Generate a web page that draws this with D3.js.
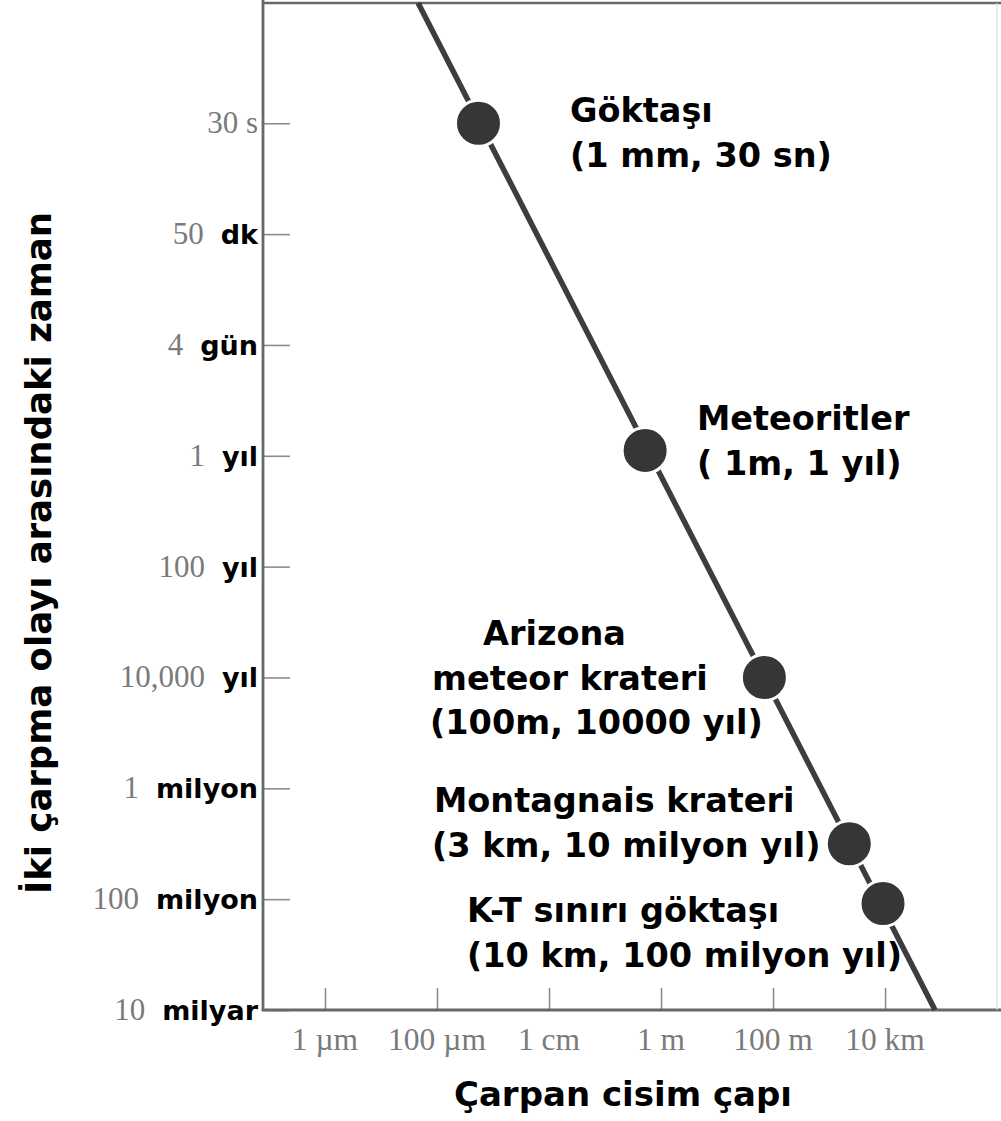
<!DOCTYPE html>
<html>
<head>
<meta charset="utf-8">
<script src="https://cdn.jsdelivr.net/npm/d3@7/dist/d3.min.js"></script>
<style>
  html, body { margin: 0; padding: 0; background: #fff; }
  svg { display: block; }
</style>
</head>
<body>
<svg id="chart" width="1001" height="1121"></svg>
<script>
// ---------- DATA ----------
// y axis: time between two impacts (in years)
const yTickYears   = [1e-6, 1e-4, 1e-2, 1, 1e2, 1e4, 1e6, 1e8, 1e10];
const yTickNumbers = ["30 s", "50", "4", "1", "100", "10,000", "1", "100", "10"];
const yTickUnits   = ["", "dk", "gün", "yıl", "yıl", "yıl", "milyon", "milyon", "milyar"];

// x axis: impactor diameter (in metres)
const xTickMeters = [1e-6, 1e-4, 1e-2, 1, 1e2, 1e4];
const xTickLabels = ["1 µm", "100 µm", "1 cm", "1 m", "100 m", "10 km"];

// events
const eventNames     = ["Göktaşı", "Meteoritler", "Arizona meteor krateri", "Montagnais krateri", "K-T sınırı göktaşı"];
const eventDiameters = [5.5e-4, 0.52, 70, 2300, 9200];        // m
const eventIntervals = [1e-6, 0.8, 1e4, 1e7, 1.2e8];          // years
const eventLabelLines = [
  ["Göktaşı", "(1 mm, 30 sn)"],
  ["Meteoritler", "( 1m, 1 yıl)"],
  ["Arizona", "meteor krateri", "(100m, 10000 yıl)"],
  ["Montagnais krateri", "(3 km, 10 milyon yıl)"],
  ["K-T sınırı göktaşı", "(10 km, 100 milyon yıl)"]
];

// trend line end points (diameter m, interval years)
const trendDiameters = [4.6e-5, 7.8e4];
const trendIntervals = [6.76e-9, 1e10];

const xTitle = "Çarpan cisim çapı";
const yTitle = "İki çarpma olayı arasındaki zaman";

// ---------- LAYOUT ----------
const plotLeft = 263, plotRight = 1001, plotTop = 3, plotBottom = 1010;
// label placement (x of each line / first baseline), layout only
const labelLayout = [
  {x: [570, 570], y: 122},
  {x: [697, 697], y: 430},
  {x: [483, 432, 430], y: 645},
  {x: [434, 432], y: 812},
  {x: [467, 467], y: 922}
];
const lineGap = 44.5;

const svg = d3.select("#chart");

const x = d3.scaleLog()
  .domain([Math.pow(10, -7.107), Math.pow(10, 6.07)])
  .range([plotLeft, plotRight]);
const y = d3.scaleLog()
  .domain([Math.pow(10, -8.17), 1e10])
  .range([plotTop, plotBottom]);

const axisGray = "#686868";
const tickGray = "#8c8c8c";
const labelGray = "#7a7a7a";
const serif = "'Liberation Serif', 'DejaVu Serif', serif";
const sansBold = "'DejaVu Sans', sans-serif";

// ---------- AXES ----------
const yAxis = d3.axisLeft(y)
  .tickValues(yTickYears)
  .tickSize(-27)
  .tickFormat("");
const gy = svg.append("g")
  .attr("transform", `translate(${plotLeft},0)`)
  .call(yAxis);
gy.select(".domain").remove();
gy.selectAll(".tick line").attr("stroke", tickGray).attr("stroke-width", 1.6);

const xAxis = d3.axisBottom(x)
  .tickValues(xTickMeters)
  .tickSize(-22)
  .tickFormat("");
const gx = svg.append("g")
  .attr("transform", `translate(0,${plotBottom})`)
  .call(xAxis);
gx.select(".domain").remove();
gx.selectAll(".tick line").attr("stroke", tickGray).attr("stroke-width", 1.6);

// frame lines
svg.append("line")
  .attr("x1", plotLeft).attr("x2", plotLeft)
  .attr("y1", 0).attr("y2", plotBottom)
  .attr("stroke", axisGray).attr("stroke-width", 2.8);
svg.append("line")
  .attr("x1", plotLeft - 1.4).attr("x2", plotRight)
  .attr("y1", plotBottom).attr("y2", plotBottom)
  .attr("stroke", axisGray).attr("stroke-width", 2.8);
svg.append("line")
  .attr("x1", plotLeft).attr("x2", plotRight)
  .attr("y1", plotTop).attr("y2", plotTop)
  .attr("stroke", axisGray).attr("stroke-width", 2.4);
svg.append("line")
  .attr("x1", 997).attr("x2", 997)
  .attr("y1", plotTop).attr("y2", plotBottom)
  .attr("stroke", "#dedede").attr("stroke-width", 1.2);

// x tick labels
svg.append("g").selectAll("text")
  .data(xTickMeters)
  .join("text")
  .attr("x", d => x(d))
  .attr("y", 1050)
  .attr("text-anchor", "middle")
  .attr("font-family", serif)
  .attr("font-size", 31.5)
  .attr("fill", labelGray)
  .text((d, i) => xTickLabels[i]);

// y tick labels: grey serif number + bold black unit
const yl = svg.append("g").selectAll("text")
  .data(yTickYears)
  .join("text")
  .attr("x", 258)
  .attr("y", d => y(d) + 10)
  .attr("text-anchor", "end");
yl.append("tspan")
  .attr("font-family", serif)
  .attr("font-size", 31)
  .attr("fill", labelGray)
  .text((d, i) => yTickNumbers[i]);
yl.filter((d, i) => yTickUnits[i] !== "")
  .append("tspan")
  .attr("dx", 17)
  .attr("font-family", sansBold)
  .attr("font-weight", "bold")
  .attr("font-size", 27)
  .attr("fill", "#000")
  .text(d => yTickUnits[yTickYears.indexOf(d)]);

// ---------- TREND LINE ----------
const trend = trendDiameters.map((d, i) => [d, trendIntervals[i]]);
svg.append("path")
  .datum(trend)
  .attr("d", d3.line().x(d => x(d[0])).y(d => y(d[1])))
  .attr("fill", "none")
  .attr("stroke", "#3d3d3d")
  .attr("stroke-width", 5.5);

// ---------- POINTS ----------
const events = eventNames.map((n, i) => ({
  name: n, d: eventDiameters[i], t: eventIntervals[i], lines: eventLabelLines[i]
}));
svg.append("g").selectAll("circle")
  .data(events)
  .join("circle")
  .attr("cx", d => x(d.d))
  .attr("cy", d => y(d.t))
  .attr("r", 23)
  .attr("fill", "#363636")
  .attr("stroke", "#fff")
  .attr("stroke-width", 3);

// ---------- ANNOTATIONS ----------
const ann = svg.append("g")
  .attr("font-family", sansBold)
  .attr("font-weight", "bold")
  .attr("font-size", 33.5)
  .attr("fill", "#000");
events.forEach((e, i) => {
  e.lines.forEach((ln, j) => {
    ann.append("text")
      .attr("x", labelLayout[i].x[j])
      .attr("y", labelLayout[i].y + j * lineGap)
      .text(ln);
  });
});

// ---------- TITLES ----------
svg.append("text")
  .attr("x", 623)
  .attr("y", 1106)
  .attr("text-anchor", "middle")
  .attr("font-family", sansBold)
  .attr("font-weight", "bold")
  .attr("font-size", 34)
  .attr("fill", "#000")
  .text(xTitle);

svg.append("text")
  .attr("transform", "translate(51,553) rotate(-90)")
  .attr("text-anchor", "middle")
  .attr("font-family", sansBold)
  .attr("font-weight", "bold")
  .attr("font-size", 35.5)
  .attr("fill", "#000")
  .text(yTitle);
</script>
</body>
</html>
